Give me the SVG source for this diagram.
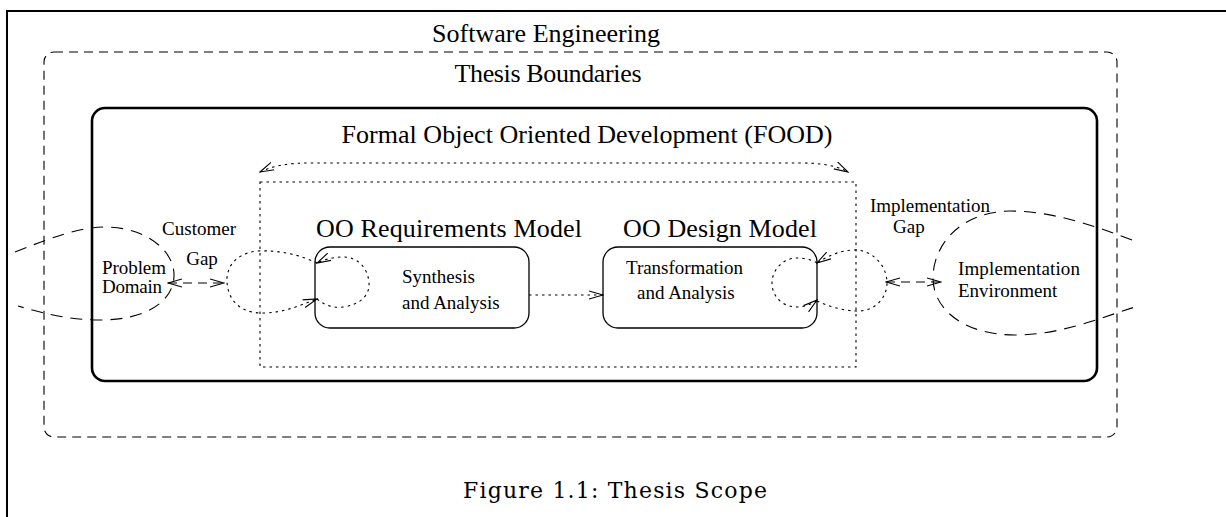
<svg xmlns="http://www.w3.org/2000/svg" width="1226" height="517" viewBox="0 0 1226 517">
  <style>
    .serif { font-family: "Liberation Serif", "Times New Roman", serif; fill: #000; }
    .big { font-size: 26px; }
    .small { font-size: 19px; }
    .caption { font-family: "DejaVu Serif", "Liberation Serif", serif; font-size: 22px; fill: #000; }
    .frame { fill: none; stroke: #000; stroke-width: 2; }
    .dashed { fill: none; stroke: #000; stroke-width: 1.1; stroke-dasharray: 9 6; }
    .dashed-long { fill: none; stroke: #000; stroke-width: 1.1; stroke-dasharray: 12 8; }
    .dotted { fill: none; stroke: #000; stroke-width: 1.1; stroke-dasharray: 2.5 4; }
    .solid-thick { fill: none; stroke: #000; stroke-width: 2.6; }
    .solid-thin { fill: #fff; stroke: #000; stroke-width: 1.3; }
  </style>
  <defs>
    <marker id="open" viewBox="0 0 15 10" refX="14" refY="5" markerWidth="15" markerHeight="10" markerUnits="userSpaceOnUse" orient="auto-start-reverse">
      <path d="M0 1 L14 5 L0 9" fill="none" stroke="#000" stroke-width="1.1"/>
    </marker>
  </defs>

  <rect width="1226" height="517" fill="#fff"/>

  <!-- page frame: top and left rules -->
  <g id="page-frame">
    <path class="frame" d="M7 517 L7 11 L1226 11"/>
  </g>

  <!-- outermost scope label -->
  <g id="software-engineering">
    <text class="serif big" x="546" y="42" text-anchor="middle" textLength="228" lengthAdjust="spacing">Software Engineering</text>
  </g>

  <!-- dashed thesis boundary -->
  <g id="thesis-boundaries">
    <rect class="dashed" x="44" y="52" width="1073" height="385" rx="10" ry="10"/>
    <text class="serif big" x="548" y="82" text-anchor="middle" textLength="187" lengthAdjust="spacing">Thesis Boundaries</text>
  </g>

  <!-- FOOD box -->
  <g id="food">
    <rect class="solid-thick" x="92" y="108" width="1005" height="273" rx="13" ry="13"/>
    <text class="serif big" x="587" y="143" text-anchor="middle" textLength="491" lengthAdjust="spacing">Formal Object Oriented Development (FOOD)</text>
  </g>

  <!-- dotted inner scope -->
  <g id="food-core">
    <rect class="dotted" x="260" y="182" width="596" height="185"/>
  </g>

  <!-- problem domain (open dashed lobe) -->
  <g id="problem-domain">
    <path class="dashed-long" d="M15 252 C50 238 80 227 105 227 C145 227 174 250 174 275 C174 302 145 320 100 320 C70 320 45 314 18 306"/>
    <text class="serif small" x="102" y="274" textLength="64" lengthAdjust="spacing">Problem</text>
    <text class="serif small" x="102" y="293" textLength="60" lengthAdjust="spacing">Domain</text>
  </g>

  <!-- customer gap label -->
  <g id="customer-gap">
    <text class="serif small" x="199" y="235" text-anchor="middle" textLength="74" lengthAdjust="spacing">Customer</text>
    <text class="serif small" x="202" y="265" text-anchor="middle">Gap</text>
  </g>

  <!-- OO requirements model -->
  <g id="requirements-model">
    <text class="serif big" x="316" y="237" textLength="266" lengthAdjust="spacing">OO Requirements Model</text>
    <rect class="solid-thin" x="315" y="247" width="214" height="81" rx="15" ry="15"/>
    <text class="serif small" x="402" y="283">Synthesis</text>
    <text class="serif small" x="402" y="309">and Analysis</text>
  </g>

  <!-- OO design model -->
  <g id="design-model">
    <text class="serif big" x="623" y="237" textLength="194" lengthAdjust="spacing">OO Design Model</text>
    <rect class="solid-thin" x="603" y="247" width="214" height="81" rx="15" ry="15"/>
    <text class="serif small" x="626" y="274" textLength="117" lengthAdjust="spacing">Transformation</text>
    <text class="serif small" x="637" y="299">and Analysis</text>
  </g>

  <!-- implementation gap label -->
  <g id="implementation-gap">
    <text class="serif small" x="870" y="212" textLength="120" lengthAdjust="spacing">Implementation</text>
    <text class="serif small" x="893" y="233">Gap</text>
  </g>

  <!-- implementation environment (open dashed lobe) -->
  <g id="implementation-environment">
    <path class="dashed-long" d="M1132 240 C1090 224 1050 211 1010 211 C960 212 933 245 933 278 C933 310 965 335 1015 335 C1060 335 1100 318 1135 307"/>
    <text class="serif small" x="958" y="275" textLength="122" lengthAdjust="spacing">Implementation</text>
    <text class="serif small" x="958" y="297">Environment</text>
  </g>

  <!-- connectors -->
  <g id="connectors">
    <!-- iteration across the whole development -->
    <path class="dotted" d="M260 172 C275 165 290 163 310 163 L800 163 C820 163 835 165 848 172" marker-start="url(#open)" marker-end="url(#open)"/>
    <!-- customer gap -->
    <path class="dashed" d="M168 283 L224 283" marker-start="url(#open)" marker-end="url(#open)"/>
    <!-- left loops on the requirements model -->
    <path class="dotted" d="M317 263 C300 255 280 250 258 251 C235 253 226 268 227 282 C228 300 240 313 262 313 C285 313 300 305 317 299" marker-end="url(#open)"/>
    <path class="dotted" d="M317 299 C325 306 335 308 343 307 C360 305 370 295 369 283 C368 268 358 257 343 257 C333 257 323 260 317 263" marker-end="url(#open)"/>
    <!-- requirements to design -->
    <path class="dotted" d="M529 295 L603 295" marker-end="url(#open)"/>
    <!-- right loops on the design model -->
    <path class="dotted" d="M817 301 C830 307 845 311 858 311 C875 311 887 298 887 283 C887 265 872 250 855 250 C840 250 828 256 817 263" marker-end="url(#open)"/>
    <path class="dotted" d="M817 263 C810 259 803 258 797 258 C783 258 772 270 772 283 C772 297 783 307 797 307 C805 307 812 304 817 300" marker-end="url(#open)"/>
    <!-- implementation gap -->
    <path class="dashed" d="M886 282 L941 282" marker-start="url(#open)" marker-end="url(#open)"/>
  </g>

  <!-- caption -->
  <g id="caption">
    <text class="caption" x="463" y="498" textLength="304" lengthAdjust="spacing">Figure 1.1: Thesis Scope</text>
  </g>
</svg>
